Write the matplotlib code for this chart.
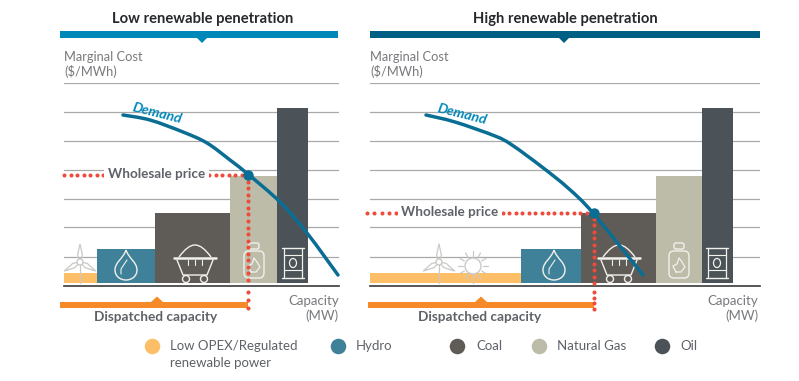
import numpy as np
import matplotlib
matplotlib.use('Agg')
import matplotlib.pyplot as plt
from matplotlib.patches import Circle, Ellipse, Polygon, Rectangle, FancyBboxPatch, PathPatch
from matplotlib.path import Path

plt.rcParams['font.family'] = 'Lato'

# capacity (MW, arbitrary units) and marginal cost per technology
technologies = ['Low OPEX/Regulated\nrenewable power', 'Hydro', 'Coal', 'Natural Gas', 'Oil']
marginal_cost = [5, 17, 35, 53.5, 87.5]
capacity_low = [33, 58, 75, 47, 31]
capacity_high = [152, 60, 75, 46, 31]

demand_cap_low = [59, 86, 119, 143, 166, 185, 216, 243, 274]
demand_cost_low = [84, 81.5, 75.5, 70, 61.5, 54, 40.5, 25, 4]
demand_cap_high = [57, 86, 126, 143, 173, 199, 224, 274]
demand_cost_high = [84, 80.5, 73.5, 69, 58, 47.5, 35, 4]

price_low = 54
price_high = 35
dispatched_low = 184
dispatched_high = 225

grid_levels = [13, 28, 42, 56.5, 71, 85.5, 100]

bar_colors = ['#FDBE68', '#3F8199', '#5F5B57', '#BDBCA9', '#4C5358']
BLUE = '#0A6E94'
RED = '#EE4B3A'
ORANGE = '#F68A28'
TEXT = '#5E6268'
ICON = '#F1F1EC'
ICON_GREY = '#C9C9C6'

fig = plt.figure(figsize=(7.99, 3.81), dpi=100)

# background axes in pixels, for titles, legend and icon placement
bg = fig.add_axes([0, 0, 1, 1])
bg.set_xlim(0, 799)
bg.set_ylim(381, 0)
bg.axis('off')
px = bg.transData


def panel(x0, x1):
    ax = fig.add_axes([x0 / 799, (381 - 283) / 381, (x1 - x0) / 799, 200 / 381])
    ax.set_xlim(0, x1 - x0)
    ax.set_ylim(0, 100)
    ax.patch.set_alpha(0)
    for s in ax.spines.values():
        s.set_visible(False)
    ax.set_xticks([])
    ax.set_yticks(grid_levels)
    ax.set_yticklabels([])
    ax.tick_params(length=0)
    ax.grid(axis='y', color='#A9A9A9', lw=0.9)
    ax.set_axisbelow(True)
    return ax


def smooth_path(xs, ys):
    # catmull-rom through the read points, so the curve has no corners
    p = np.column_stack([xs, ys])
    verts = [p[0]]
    codes = [Path.MOVETO]
    for i in range(len(p) - 1):
        a = p[max(i - 1, 0)]
        d = p[min(i + 2, len(p) - 1)]
        verts += [p[i] + (p[i + 1] - a) / 6, p[i + 1] - (d - p[i]) / 6, p[i + 1]]
        codes += [Path.CURVE4] * 3
    return Path(verts, codes)


def line(ax, xs, ys, lw=0.9, color=ICON, z=4):
    ax.plot(xs, ys, color=color, lw=lw, transform=px, clip_on=False, zorder=z,
            solid_capstyle='round', solid_joinstyle='round')


def turbine(ax, x, y):
    line(ax, [x, x], [y + 3, 283], color=ICON_GREY)
    for ang in [90, 210, 330]:
        a = np.radians(ang)
        tip = (x + 18 * np.cos(a), y - 18 * np.sin(a))
        n = (np.sin(a) * 2.4, np.cos(a) * 2.4)
        mid = (x + 7 * np.cos(a), y - 7 * np.sin(a))
        line(ax, [x, mid[0] + n[0], tip[0], mid[0] - n[0], x],
             [y, mid[1] + n[1], tip[1], mid[1] - n[1], y], color=ICON_GREY)
    ax.add_patch(Circle((x, y), 3, fc='white', ec=ICON_GREY, lw=1, transform=px, clip_on=False, zorder=5))


def sun(ax, x, y):
    ax.add_patch(Circle((x, y), 8, fc='white', ec=ICON_GREY, lw=1, transform=px, clip_on=False, zorder=4))
    for ang in np.arange(0, 360, 30):
        if 240 < ang < 300:
            continue
        a = np.radians(ang)
        line(ax, [x + 10 * np.cos(a), x + 15 * np.cos(a)], [y - 10 * np.sin(a), y - 15 * np.sin(a)], color=ICON_GREY)
    line(ax, [x, x], [y + 8, 283], color=ICON_GREY)


def droplet(ax, x):
    verts = [(x, 250), (x - 3, 259), (x - 11, 262), (x - 11, 270), (x - 11, 276), (x - 6, 280), (x, 280),
             (x + 6, 280), (x + 11, 276), (x + 11, 270), (x + 11, 262), (x + 3, 259), (x, 250)]
    codes = [Path.MOVETO] + [Path.CURVE4] * 12
    ax.add_patch(PathPatch(Path(verts, codes), fc='none', ec=ICON, lw=1.0, transform=px, clip_on=False, zorder=4))
    line(ax, [x - 5, x - 5, x - 1, x + 1], [274, 269, 263, 260], lw=0.8)


def cart(ax, x):
    line(ax, [x - 21, x + 21], [258, 258], lw=1.8)
    line(ax, [x - 18, x - 12, x + 12, x + 18], [260, 275, 275, 260], lw=1.0)
    verts = [(x - 16, 257), (x - 10, 249), (x - 5, 245), (x, 245), (x + 5, 245), (x + 10, 249), (x + 16, 257)]
    codes = [Path.MOVETO] + [Path.CURVE4] * 6
    ax.add_patch(PathPatch(Path(verts, codes), fc='none', ec=ICON, lw=1.0, transform=px, clip_on=False, zorder=4))
    for d in [-7, 0, 7]:
        line(ax, [x + d, x + d], [260, 265], lw=0.8)
    for d in [-9, 9]:
        ax.add_patch(Circle((x + d, 279), 3.5, fc='none', ec=ICON, lw=1.0, transform=px, clip_on=False, zorder=4))


def bottle(ax, x):
    ax.add_patch(FancyBboxPatch((x - 10, 251), 20, 27, boxstyle='round,pad=0,rounding_size=5', fc='none', ec=ICON,
                                lw=1.0, transform=px, clip_on=False, zorder=4))
    ax.add_patch(FancyBboxPatch((x - 5, 243), 10, 6, boxstyle='round,pad=0,rounding_size=2', fc='none', ec=ICON,
                                lw=1.0, transform=px, clip_on=False, zorder=4))
    line(ax, [x - 3, x - 6, x - 2, x, x + 3, x + 6, x + 2, x - 3], [272, 266, 264, 258, 262, 267, 272, 272], lw=0.9)


def barrel(ax, x):
    for yy in [248, 278]:
        line(ax, [x - 11, x + 11], [yy, yy], lw=1.0)
    for d in [-9, 9]:
        line(ax, [x + d, x + d], [248, 278], lw=0.9)
    for yy in [255, 270]:
        line(ax, [x - 9, x + 9], [yy, yy], lw=0.8)
    ax.add_patch(Ellipse((x, 263), 7, 9, fc='none', ec=ICON, lw=0.9, transform=px, clip_on=False, zorder=4))


def red_dots(ax, xs, ys):
    n = int(round(np.hypot(xs[1] - xs[0], ys[1] - ys[0]) / 6.6)) + 1
    ax.plot(np.linspace(xs[0], xs[1], n), np.linspace(ys[0], ys[1], n), 'o', color=RED, ms=2.9, mew=0,
            transform=px, clip_on=False, zorder=6)


def draw_panel(x0, x1, bar_x0, widths, cap, cost, price, dispatched):
    ax = panel(x0, x1)
    off = bar_x0 - x0
    lefts = off + np.concatenate([[0], np.cumsum(widths)[:-1]])
    ax.bar(lefts, marginal_cost, width=widths, align='edge', color=bar_colors, zorder=2)
    ax.axhline(-1.5, color='#3A3A3A', lw=1.2, clip_on=False)
    ax.add_patch(PathPatch(smooth_path(np.array(cap) + off, cost), fc='none', ec=BLUE, lw=2.5, zorder=5,
                           clip_on=False, capstyle='round'))
    ax.plot(dispatched + off, price, 'o', color=BLUE, ms=6.5, zorder=7, clip_on=False)
    return ax, off


# left panel
ax1, off1 = draw_panel(64, 339, 64, capacity_low, demand_cap_low, demand_cost_low, price_low, dispatched_low)
turbine(ax1, 80, 262)
droplet(ax1, 126)
cart(ax1, 195)
bottle(ax1, 254)
barrel(ax1, 293)
red_dots(ax1, [64, 103], [175, 175])
red_dots(ax1, [209, 248], [175, 175])
red_dots(ax1, [248, 248], [175, 280])
red_dots(ax1, [248, 248], [292, 308])
ax1.text(156.5, 174.5, 'Wholesale price', transform=px, ha='center', va='center', fontsize=9.7, fontweight='bold',
         color=TEXT, zorder=6, bbox=dict(fc='white', ec='none', pad=2.5))
ax1.text(157, 113.5, 'Demand', transform=px, ha='center', va='center', rotation=-14, fontsize=10.2,
         fontweight='bold', fontstyle='italic', color='#0088B8', zorder=6)

# right panel
ax2, off2 = draw_panel(370, 760, 369, capacity_high, demand_cap_high, demand_cost_high, price_high, dispatched_high)
turbine(ax2, 439, 262)
sun(ax2, 473, 266)
droplet(ax2, 554)
cart(ax2, 619)
bottle(ax2, 679)
barrel(ax2, 717)
red_dots(ax2, [367, 396], [212.5, 212.5])
red_dots(ax2, [503, 593], [212.5, 212.5])
red_dots(ax2, [594, 594], [212.5, 283])
red_dots(ax2, [594, 594], [292, 309])
ax2.text(450, 211.5, 'Wholesale price', transform=px, ha='center', va='center', fontsize=9.7, fontweight='bold',
         color=TEXT, zorder=6, bbox=dict(fc='white', ec='none', pad=2.5))
ax2.text(462, 114, 'Demand', transform=px, ha='center', va='center', rotation=-14, fontsize=10.2,
         fontweight='bold', fontstyle='italic', color='#0088B8', zorder=6)

# titles, header bars, axis captions
for x0, x1, notch, col, title in [(60, 338, 202, '#0088B8', 'Low renewable penetration'),
                                  (370, 760, 564, '#005F85', 'High renewable penetration')]:
    bg.add_patch(Rectangle((x0, 30.5), x1 - x0, 7.5, fc=col, ec='none'))
    bg.add_patch(Polygon([(notch - 5, 38), (notch + 5, 38), (notch, 43)], fc=col, ec='none'))
    bg.text(notch + 1, 19, title, ha='center', va='center', fontsize=10.6, fontweight='bold', color='#26282B')

for x, cap_x in [(64, 339), (370, 758)]:
    bg.text(x, 57, 'Marginal Cost', va='center', fontsize=9.3, color='#77797C')
    bg.text(x, 72, '($/MWh)', va='center', fontsize=9.3, color='#77797C')
    bg.text(cap_x, 301, 'Capacity', ha='right', va='center', fontsize=9.5, color='#77797C')
    bg.text(cap_x, 316, '(MW)', ha='right', va='center', fontsize=9.5, color='#77797C')

# dispatched capacity arrows
for x0, x1, tri in [(60, 248, 157), (368, 594, 481)]:
    bg.add_patch(Rectangle((x0, 302), x1 - x0, 6, fc=ORANGE, ec='none'))
    bg.add_patch(Polygon([(tri - 6, 302), (tri + 6, 302), (tri, 296.5)], fc=ORANGE, ec='none'))
    bg.text(tri - 1, 317, 'Dispatched capacity', ha='center', va='center', fontsize=9.8, fontweight='bold', color=TEXT)

# legend
legend_dot_x = [152, 338, 457, 539, 662]
legend_text_x = [170, 356, 476, 557, 680]
for i, name in enumerate(technologies):
    bg.scatter([legend_dot_x[i]], [346], s=125, color=bar_colors[i], linewidths=0)
    lines = name.split('\n')
    for j, t in enumerate(lines):
        bg.text(legend_text_x[i], 346 + 17 * j, t, va='center', fontsize=9.5, color=TEXT)

fig.savefig('out.png', dpi=100)
